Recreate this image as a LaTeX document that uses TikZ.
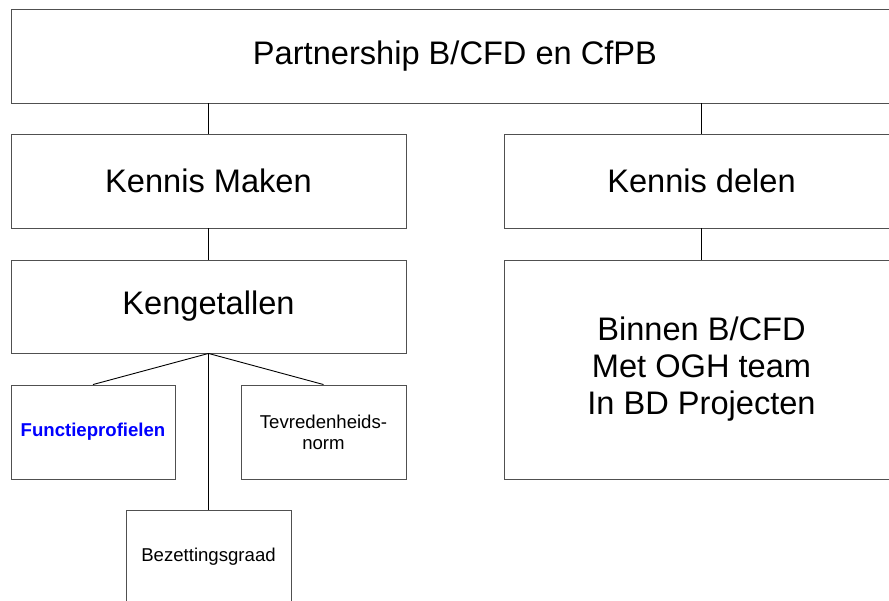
\documentclass[tikz,border=0pt]{standalone}
\usepackage{fontspec}
\setmainfont{Liberation Sans}
\usepackage{tikz}
\usetikzlibrary{positioning}
\definecolor{edge}{HTML}{505050}
\definecolor{fpblue}{HTML}{0000FF}
\tikzset{
  box/.style   = {rectangle, draw=edge, fill=white, line width=0.9pt, align=center,
                  inner sep=4pt, minimum width=395pt, minimum height=94pt,
                  font=\fontsize{32.6}{37}\selectfont},
  smallbox/.style = {box, minimum width=165pt, font=\fontsize{18.6}{21}\selectfont},
  ln/.style    = {draw=black, line width=0.9pt},
}
\begin{document}
\begin{tikzpicture}[x=1pt,y=-1pt]
\useasboundingbox (0,0) rectangle (889,601);
\clip (0,0) rectangle (889,601);
% top
\node[box, minimum width=888pt] (partner) at (455,56) {Partnership B/CFD en CfPB};
% second row
\node[box] (maken) at (208.5,181) {Kennis Maken};
\node[box] (delen) at (701.5,181) {Kennis delen};
% third row
\node[box, minimum height=93pt] (kengetal) at (208.5,306.5) {Kengetallen};
\node[box, minimum height=219pt] (binnen) at (701.5,369.5) {Binnen B/CFD\\Met OGH team\\In BD Projecten};
% kengetallen
\node[smallbox, minimum width=164pt, text=fpblue, font=\fontsize{18.6}{21}\selectfont\bfseries] (functie) at (93,432) {Functieprofielen};
\node[smallbox] (tevreden) at (323.5,432) {Tevredenheids-\\norm};
\node[smallbox] (bezet) at (208.5,557) {Bezettingsgraad};
% edges
\draw[ln] (maken.north |- partner.south) -- (maken.north);
\draw[ln] (delen.north |- partner.south) -- (delen.north);
\draw[ln] (maken) -- (kengetal);
\draw[ln] (delen) -- (binnen);
\draw[ln] (kengetal.south) -- (functie.north);
\draw[ln] (kengetal.south) -- (tevreden.north);
\draw[ln] (kengetal.south) -- (bezet.north);
\end{tikzpicture}
\end{document}
